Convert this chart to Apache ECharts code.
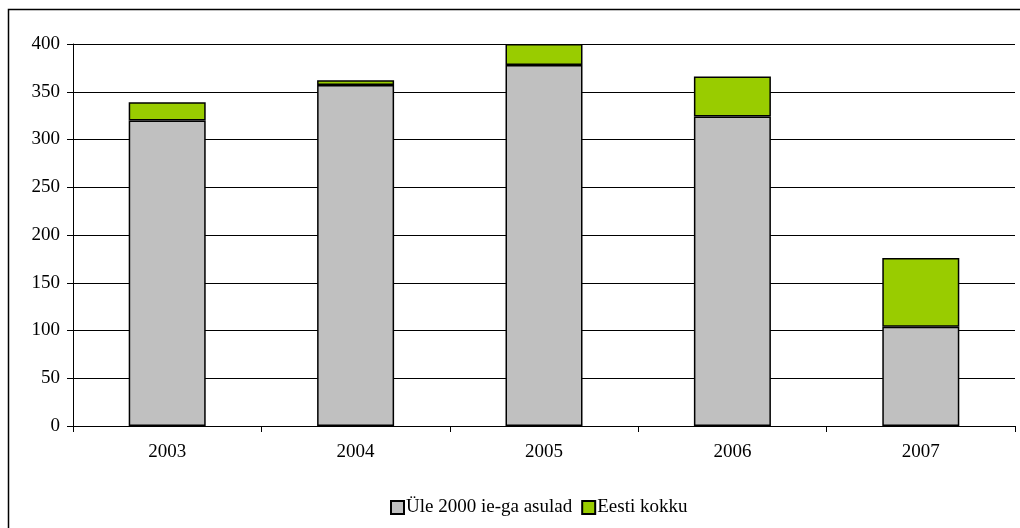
<!DOCTYPE html>
<html>
<head>
<meta charset="utf-8">
<script src="https://cdn.jsdelivr.net/npm/echarts@6/dist/echarts.min.js"></script>
<style>
  html, body { margin: 0; padding: 0; background: #fff; }
  #chart { width: 1020px; height: 528px; }
</style>
</head>
<body>
<div id="chart"></div>
<script>
// aastad ja väärtused
var years = ['2003', '2004', '2005', '2006', '2007'];
var asulad = [320, 357, 378, 324, 104];
var eestiLisa = [19, 5, 22, 42, 72];
var yTicks = [0, 50, 100, 150, 200, 250, 300, 350, 400];

var font = 'Liberation Serif, Times New Roman, serif';

var myChart = echarts.init(document.getElementById('chart'));

var option = {
    backgroundColor: '#fff',
    animation: false,
    textStyle: { fontFamily: font },
    graphic: [{
        type: 'rect',
        shape: { x: 8.5, y: 9.5, width: 1030, height: 540 },
        style: { fill: 'none', stroke: '#000', lineWidth: 1.5 },
        silent: true
    }],
    grid: { left: 73, right: 5, top: 44, bottom: 102 },
    legend: {
        top: 498,
        left: 390,
        padding: 0,
        itemWidth: 13,
        itemHeight: 13,
        itemGap: 9,
        icon: 'rect',
        textStyle: { fontFamily: font, fontSize: 19, color: '#000', padding: [0, 0, 0, -3] },
        data: ['Üle 2000 ie-ga asulad', 'Eesti kokku']
    },
    xAxis: {
        type: 'category',
        data: years,
        axisLine: { lineStyle: { color: '#000', width: 1 } },
        axisTick: { show: true, length: 6, lineStyle: { color: '#000' } },
        axisLabel: { color: '#000', fontSize: 19, fontFamily: font, margin: 17 }
    },
    yAxis: {
        type: 'value',
        min: yTicks[0],
        max: yTicks[yTicks.length - 1],
        interval: 50,
        axisLine: { show: true, lineStyle: { color: '#000', width: 1 } },
        axisTick: { show: true, length: 6, inside: false, lineStyle: { color: '#000' } },
        axisLabel: { color: '#000', fontSize: 19, fontFamily: font, margin: 13 },
        splitLine: { lineStyle: { color: '#000', width: 1 } }
    },
    series: [{
        name: 'Üle 2000 ie-ga asulad',
        type: 'bar',
        stack: 'kokku',
        data: asulad,
        barWidth: 77,
        itemStyle: { color: '#c0c0c0', borderColor: '#000', borderWidth: 1.5 }
    }, {
        name: 'Eesti kokku',
        type: 'bar',
        stack: 'kokku',
        data: eestiLisa,
        barWidth: 77,
        itemStyle: { color: '#99cc00', borderColor: '#000', borderWidth: 1.5 }
    }]
};

myChart.setOption(option);
</script>
</body>
</html>
